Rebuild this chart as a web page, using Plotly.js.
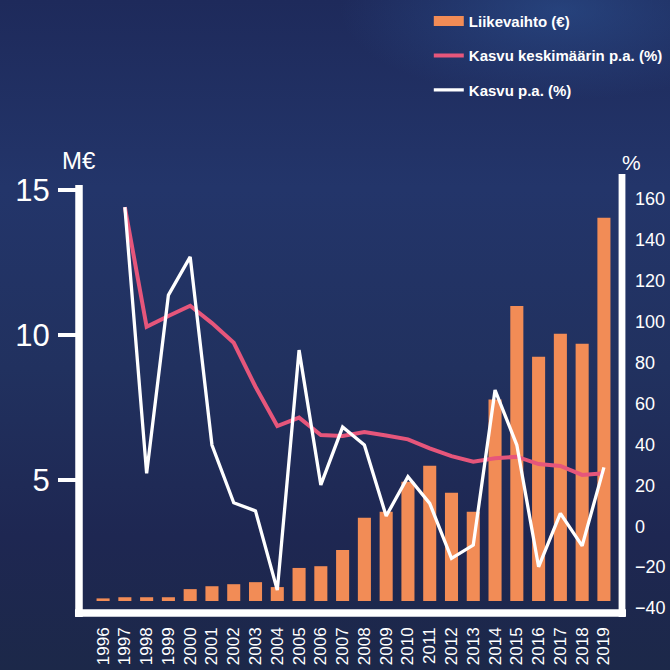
<!DOCTYPE html>
<html>
<head>
<meta charset="utf-8">
<script src="https://cdn.plot.ly/plotly-3.0.1.min.js"></script>
<style>
  html, body { margin: 0; padding: 0; width: 670px; height: 670px; overflow: hidden; }
  body {
    background:
      radial-gradient(ellipse 220px 90px at 560px 10px, rgba(45,85,150,0.55), rgba(45,85,150,0) 100%),
      linear-gradient(to bottom, #1e2a5b 0%, #23356a 28%, #21315f 55%, #1e2752 80%, #1c2849 100%);
  }
  #chart { width: 670px; height: 670px; }
</style>
</head>
<body>
<div id="chart"></div>
<script>
// ---- data ----
const years = ['1996','1997','1998','1999','2000','2001','2002','2003','2004','2005','2006','2007',
               '2008','2009','2010','2011','2012','2013','2014','2015','2016','2017','2018','2019'];
// Liikevaihto, M€
const revenue = [0.92, 0.96, 0.96, 0.96, 1.24, 1.34, 1.41, 1.48, 1.31, 1.97, 2.03, 2.59,
                 3.70, 3.91, 4.94, 5.49, 4.56, 3.91, 7.78, 11.0, 9.25, 10.04, 9.70, 14.04];
// Kasvu keskimäärin p.a. (%)
const growthAvg = [null, 156, 97.5, 102.8, 107.8, 99.3, 89.7, 68.2, 49, 53.1, 44.6, 44.1,
                   46.1, 44.4, 42.5, 38.1, 34.3, 31.6, 33.2, 34, 30.4, 29.5, 25.1, 25.9];
// Kasvu p.a. (%)
const growth = [null, 156, 25.9, 113, 131.7, 39.7, 11.5, 7.5, -31.2, 86.1, 20.2, 48.5,
                39.7, 5, 24.2, 11.2, -15.7, -9.2, 66.6, 39.7, -19.8, 6.3, -9.6, 28.8];
const leftTicks = [5, 10, 15];
const seriesNames = ['Liikevaihto (€)', 'Kasvu keskimäärin p.a. (%)', 'Kasvu p.a. (%)'];

// ---- styles ----
const ORANGE = '#f28c56';
const PINK = '#e6567b';
const WHITE = '#ffffff';
const FONT = 'Liberation Sans, Arial, sans-serif';

const traces = [
  { type: 'bar', x: years, y: revenue, xaxis: 'x', yaxis: 'y',
    marker: { color: ORANGE }, showlegend: false, name: seriesNames[0], hoverinfo: 'x+y' },
  { type: 'scatter', mode: 'lines', x: [null], y: [null], xaxis: 'x', yaxis: 'y2',
    line: { color: ORANGE, width: 11 }, name: seriesNames[0], legendgroup: 'a', showlegend: true },
  { type: 'scatter', mode: 'lines', x: years, y: growthAvg, xaxis: 'x', yaxis: 'y2',
    line: { color: PINK, width: 4 }, name: seriesNames[1], legendgroup: 'b', connectgaps: false },
  { type: 'scatter', mode: 'lines', x: years, y: growth, xaxis: 'x', yaxis: 'y2',
    line: { color: WHITE, width: 3.3 }, name: seriesNames[2], legendgroup: 'c', connectgaps: false }
];

const lineW = 7.5;
const layout = {
  width: 670, height: 670,
  margin: { l: 79, r: 48, t: 174, b: 57, pad: 0, autoexpand: false },
  paper_bgcolor: 'rgba(0,0,0,0)',
  plot_bgcolor: 'rgba(0,0,0,0)',
  font: { family: FONT, color: WHITE },
  bargap: 0.4,
  showlegend: true,
  legend: {
    xref: 'container', yref: 'container',
    x: 0.640, y: 0.993, xanchor: 'left', yanchor: 'top',
    bgcolor: 'rgba(0,0,0,0)', borderwidth: 0,
    font: { family: FONT, size: 15, color: WHITE, weight: 'bold' },
    traceorder: 'grouped', tracegroupgap: 12,
    itemwidth: 30
  },
  xaxis: {
    type: 'category', anchor: 'y2',
    range: [-1.106, 23.83],
    showgrid: false, zeroline: false, showline: false,
    tickmode: 'array', tickvals: years, ticktext: years,
    ticks: '', tickangle: -90,
    tickfont: { family: FONT, size: 17, color: WHITE },
    ticklabelstandoff: 10
  },
  yaxis: {
    domain: [0.0273, 1], range: [0.83, 15.55],
    showgrid: false, zeroline: false, showline: false,
    tickmode: 'array', tickvals: leftTicks, ticktext: leftTicks.map(String),
    ticks: 'outside', ticklen: 20, tickwidth: 4, tickcolor: WHITE,
    tickfont: { family: FONT, size: 31, color: WHITE },
    ticklabelstandoff: 2
  },
  yaxis2: {
    domain: [0, 1], anchor: 'x', side: 'right',
    range: [-42.4, 172.2],
    showgrid: false, zeroline: false, showline: false,
    tickmode: 'linear', tick0: 0, dtick: 20, ticks: '',
    tickfont: { family: FONT, size: 18, color: WHITE },
    ticklabelstandoff: 12
  },
  shapes: [
    { type: 'line', xref: 'paper', yref: 'paper', x0: 0, x1: 0, y0: 0.975, y1: -0.0091,
      line: { color: WHITE, width: lineW } },
    { type: 'line', xref: 'paper', yref: 'paper', x0: 1.0, x1: 1.0, y0: 1.0, y1: -0.0091,
      line: { color: WHITE, width: 6.8 } },
    { type: 'line', xref: 'paper', yref: 'paper', x0: -0.0074, x1: 1.0074, y0: 0, y1: 0,
      line: { color: WHITE, width: lineW } }
  ],
  annotations: [
    { text: 'M€', xref: 'paper', yref: 'paper', x: 0.0, y: (613 - 160) / 439,
      xanchor: 'center', yanchor: 'middle', showarrow: false,
      font: { family: FONT, size: 24, color: WHITE } },
    { text: '%', xref: 'paper', yref: 'paper', x: (630 - 79) / 542, y: (613 - 163) / 439,
      xanchor: 'center', yanchor: 'middle', showarrow: false,
      font: { family: FONT, size: 21, color: WHITE } }
  ]
};

Plotly.newPlot('chart', traces, layout, { displayModeBar: false, staticPlot: true });
</script>
</body>
</html>
